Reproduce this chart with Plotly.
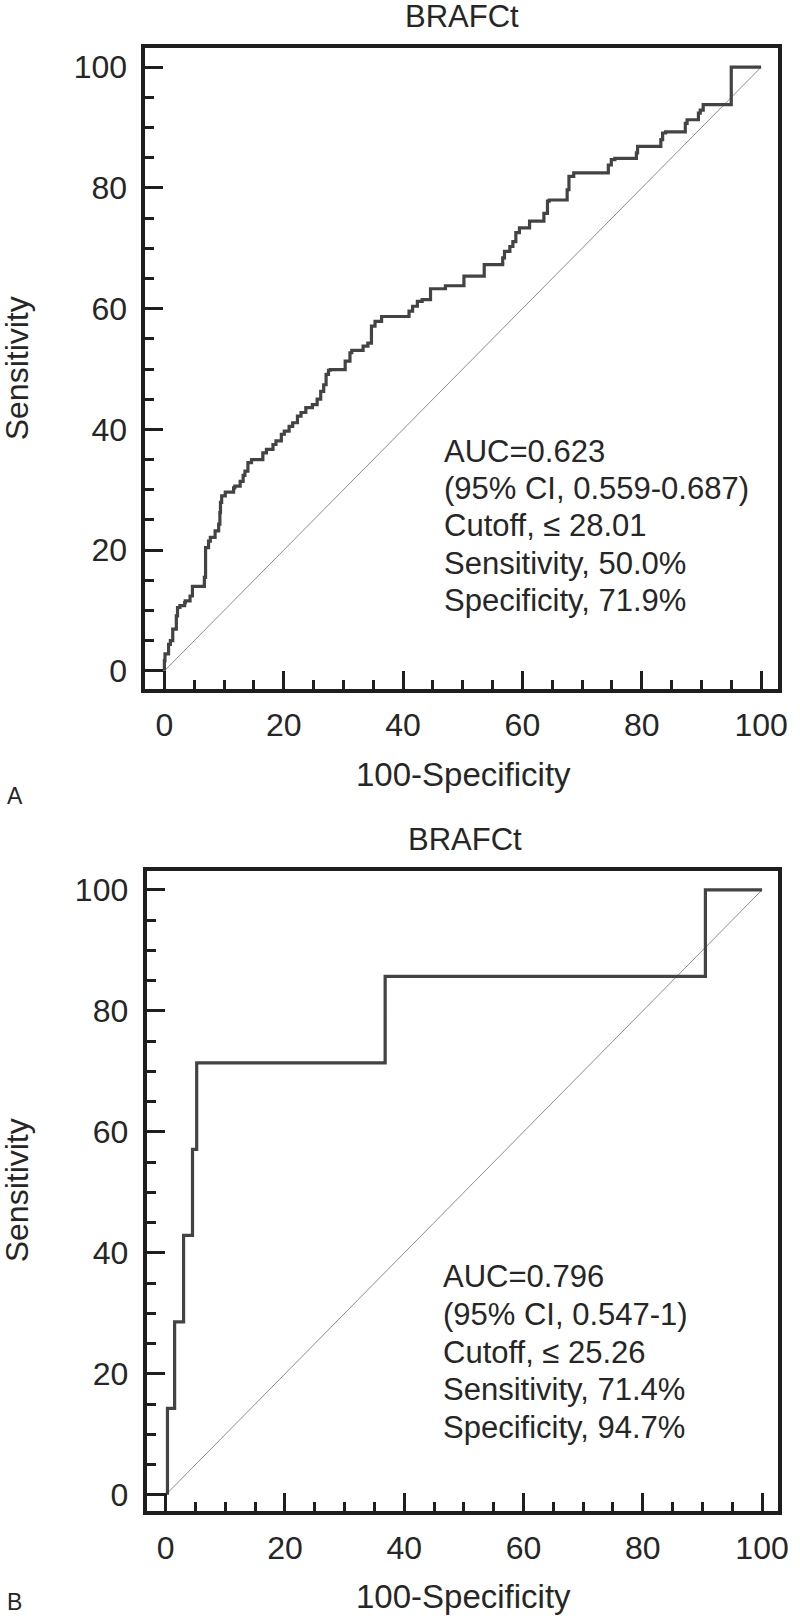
import plotly.graph_objects as go

W, H = 800, 1621
FONT = "Liberation Sans, Arial, sans-serif"
TXT = "#262626"

# ---------------- data ----------------
title_text = "BRAFCt"
x_title = "100-Specificity"
y_title = "Sensitivity"
panel_labels = ["A", "B"]
tick_vals = [0, 20, 40, 60, 80, 100]
diag = [0, 100]

# Panel A ROC curve (100-Specificity, Sensitivity)
fpr_a = [0, 0.1, 0.7, 1.0, 1.4, 2.0, 2.2, 2.6, 3.4, 3.5, 4.3, 4.7, 5.1, 6.7, 6.9, 6.9,
         7.4, 7.7, 8.5, 9.1, 9.3, 9.4, 9.6, 10.2, 10.5, 11.6, 11.8, 12.7, 13.2, 13.5,
         14.0, 14.6, 14.9, 16.5, 17.1, 18.2, 18.7, 19.6, 20.1, 20.9, 21.5, 22.3, 22.9,
         23.7, 24.8, 25.6, 26.2, 26.7, 27.1, 27.5, 27.8, 30.3, 31.1, 31.4, 33.3, 34.1,
         34.7, 35.3, 36.4, 37.7, 41.0, 41.6, 42.4, 43.2, 44.6, 45.1, 47.1, 47.4, 50.2,
         50.4, 53.6, 53.7, 56.7, 57.0, 57.9, 58.4, 58.9, 59.5, 60.0, 61.2, 61.4, 63.6,
         64.2, 64.5, 64.9, 67.5, 67.8, 68.6, 69.1, 74.4, 74.9, 75.5, 79.1, 79.3, 80.2,
         83.2, 83.5, 84.0, 84.3, 87.3, 87.6, 87.8, 89.5, 89.8, 90.3, 90.6, 95.0, 95.0,
         100]
tpr_a = [0, 1.7, 2.8, 4.4, 5.0, 6.9, 9.1, 10.5, 10.8, 11.3, 11.6, 12.4, 14.0, 14.0, 15.5,
         20.1, 20.4, 21.5, 22.1, 23.2, 24.3, 26.2, 27.9, 29.0, 29.6, 29.6, 30.3, 30.6,
         31.4, 32.4, 33.1, 34.5, 35.0, 35.0, 36.1, 36.7, 37.5, 38.1, 39.2, 39.7, 40.5,
         41.1, 42.2, 42.8, 43.6, 44.1, 45.0, 46.3, 47.4, 49.1, 49.8, 49.9, 51.3, 52.7,
         53.1, 53.8, 54.3, 57.1, 57.9, 58.7, 58.7, 59.6, 60.4, 61.2, 61.5, 63.3, 63.3,
         63.8, 63.8, 65.4, 65.4, 67.3, 67.3, 68.4, 69.5, 70.3, 71.1, 72.6, 73.4, 73.4,
         74.5, 74.5, 75.8, 77.8, 78.0, 78.0, 79.7, 81.9, 82.5, 82.5, 83.8, 84.7, 84.9,
         85.8, 86.9, 86.9, 88.0, 89.1, 89.3, 89.3, 90.7, 91.3, 91.3, 92.4, 92.9, 93.8,
         93.8, 100, 100]

# Panel B ROC curve
fpr_b = [0.3, 1.5, 3.0, 4.5, 5.2, 36.8, 90.5, 100]
tpr_b = [0, 14.3, 28.6, 42.9, 57.1, 71.4, 85.7, 100]

stats_a = ["AUC=0.623", "(95% CI, 0.559-0.687)", "Cutoff, \u2264 28.01",
           "Sensitivity, 50.0%", "Specificity, 71.9%"]
stats_b = ["AUC=0.796", "(95% CI, 0.547-1)", "Cutoff, \u2264 25.26",
           "Sensitivity, 71.4%", "Specificity, 94.7%"]

# ---------------- layout helpers ----------------
def px_x(p):
    return p / W

def px_y(p):
    return 1 - p / H

fig = go.Figure()

panels = [
    dict(fpr=fpr_a, tpr=tpr_a, xa="x", ya="y",
         xdom=[147.5, 789.0], ydom=[48.5, 689.7],
         xrange=[-3.17, 102.86], yrange=[-2.98, 103.11],
         title_xy=(468.5, 17.0), xt_xy=(469.5, 775.0), yt_xy=(17, 369),
         lab_xy=(15, 797), stats=stats_a, stats_x=448.3, stats_y0=452.0, stats_dy=37.3),
    dict(fpr=fpr_b, tpr=tpr_b, xa="x2", ya="y2",
         xdom=[148.7, 788.7], ydom=[872.0, 1513.0],
         xrange=[-3.19, 102.65], yrange=[-2.69, 103.14],
         title_xy=(471, 840.5), xt_xy=(469.5, 1598.5), yt_xy=(17, 1192),
         lab_xy=(15, 1604), stats=stats_b, stats_x=446.7, stats_y0=1278.0, stats_dy=37.9),
]

annotations = []
for i, p in enumerate(panels):
    fig.add_trace(go.Scatter(x=diag, y=diag, mode="lines", xaxis=p["xa"], yaxis=p["ya"],
                             line=dict(color="#8c8c8c", width=1), showlegend=False,
                             hoverinfo="skip"))
    fig.add_trace(go.Scatter(x=p["fpr"], y=p["tpr"], mode="lines", xaxis=p["xa"],
                             yaxis=p["ya"], line=dict(color="#434343", width=3.2, shape="vh"),
                             showlegend=False))
    axcommon = dict(showgrid=False, zeroline=False, showline=True, mirror=True,
                    linecolor="#1e1e1e", linewidth=4,
                    ticks="inside", ticklen=18, tickwidth=3, tickcolor="#1e1e1e",
                    tickvals=tick_vals,
                    tickfont=dict(family=FONT, size=32, color=TXT),
                    minor=dict(ticks="inside", ticklen=9, tickwidth=2.5,
                               tickcolor="#1e1e1e", dtick=5, tick0=0, showgrid=False),
                    fixedrange=True)
    xkey = "xaxis" if i == 0 else "xaxis2"
    ykey = "yaxis" if i == 0 else "yaxis2"
    fig.update_layout(**{
        xkey: dict(axcommon, domain=[px_x(p["xdom"][0]), px_x(p["xdom"][1])],
                   range=p["xrange"], anchor=p["ya"], ticklabelstandoff=5),
        ykey: dict(axcommon, domain=[px_y(p["ydom"][1]), px_y(p["ydom"][0])],
                   range=p["yrange"], anchor=p["xa"], ticklabelstandoff=8),
    })
    annotations.append(dict(text=title_text, x=px_x(p["title_xy"][0]), y=px_y(p["title_xy"][1]),
                            xref="paper", yref="paper", showarrow=False,
                            xanchor="center", yanchor="middle",
                            font=dict(family=FONT, size=31, color=TXT)))
    annotations.append(dict(text=x_title, x=px_x(p["xt_xy"][0]), y=px_y(p["xt_xy"][1]),
                            xref="paper", yref="paper", showarrow=False,
                            xanchor="center", yanchor="middle",
                            font=dict(family=FONT, size=33, color=TXT)))
    annotations.append(dict(text=y_title, x=px_x(p["yt_xy"][0]), y=px_y(p["yt_xy"][1]),
                            xref="paper", yref="paper", showarrow=False, textangle=-90,
                            xanchor="center", yanchor="middle",
                            font=dict(family=FONT, size=32, color=TXT)))
    annotations.append(dict(text=panel_labels[i], x=px_x(p["lab_xy"][0]), y=px_y(p["lab_xy"][1]),
                            xref="paper", yref="paper", showarrow=False,
                            xanchor="center", yanchor="middle",
                            font=dict(family=FONT, size=23, color=TXT)))
    for k, line in enumerate(p["stats"]):
        annotations.append(dict(text=line, x=px_x(p["stats_x"]),
                                y=px_y(p["stats_y0"] + k * p["stats_dy"]),
                                xref="paper", yref="paper", showarrow=False,
                                xanchor="left", yanchor="middle",
                                font=dict(family=FONT, size=31, color=TXT)))

fig.update_layout(width=W, height=H, margin=dict(l=0, r=0, t=0, b=0),
                  paper_bgcolor="white", plot_bgcolor="white",
                  annotations=annotations, showlegend=False)

fig.write_html("out.html", config={"displayModeBar": False},
               post_script="document.body.style.margin='0';")
